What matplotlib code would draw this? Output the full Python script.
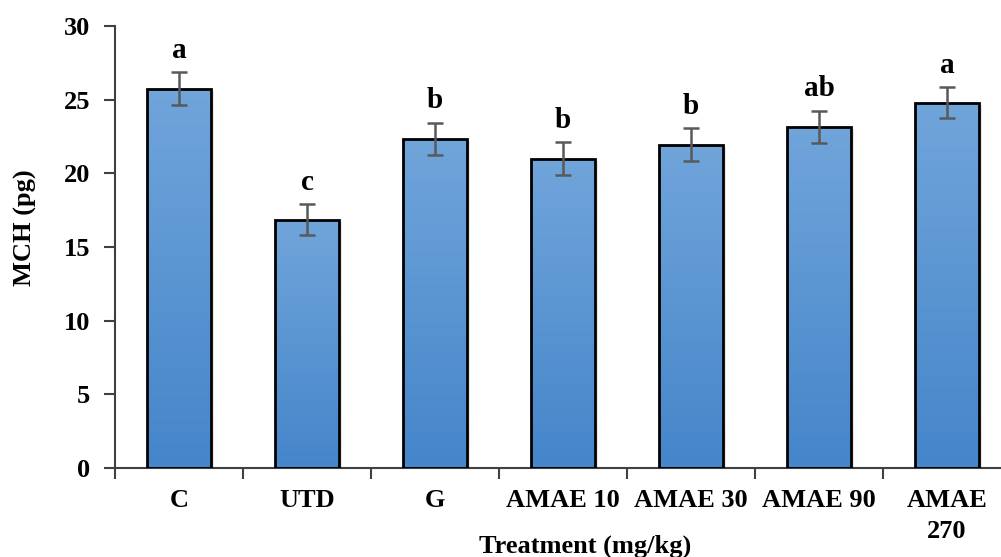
import matplotlib.pyplot as plt
import numpy as np
from matplotlib.colors import LinearSegmentedColormap

plt.rcParams['font.family'] = ['Liberation Serif', 'DejaVu Serif']
plt.rcParams['font.weight'] = 'bold'

# data
treatments = ['C', 'UTD', 'G', 'AMAE 10', 'AMAE 30', 'AMAE 90', 'AMAE\n270']
mch = [25.75, 16.85, 22.35, 21.0, 21.95, 23.15, 24.8]
err = [1.1, 1.05, 1.1, 1.1, 1.1, 1.1, 1.05]
letters = ['a', 'c', 'b', 'b', 'b', 'ab', 'a']

fig = plt.figure(figsize=(10.01, 5.57), dpi=100)
ax = fig.add_axes([115/1001, 89/557, 896/1001, 442/557])

x = np.arange(len(treatments))
bars = ax.bar(x, mch, width=0.5, color='none', edgecolor='black', linewidth=2, zorder=3)

# gradient fill inside each bar
cmap = LinearSegmentedColormap.from_list('grad', ['#4585ca', '#70a5da'])
grad = np.linspace(0, 1, 256).reshape(-1, 1)
for b in bars:
    bx, bw, bh = b.get_x(), b.get_width(), b.get_height()
    # soft shadow on the right
    ax.add_patch(plt.Rectangle((bx + 0.02, 0), bw, bh - 0.15, color='#bbbbbb', alpha=0.35,
                               lw=0, zorder=1))
    im = ax.imshow(grad, extent=[bx, bx + bw, 0, bh], origin='lower', cmap=cmap,
                   aspect='auto', zorder=2)
    im.set_clip_path(b)

ax.errorbar(x, mch, yerr=err, fmt='none', ecolor='#595959', elinewidth=1.8,
            capsize=6, capthick=1.8, zorder=4)

for xi, v, e, lab in zip(x, mch, err, letters):
    ax.annotate(lab, (xi, v + e), xytext=(0, 6), textcoords='offset points',
                ha='center', va='bottom', fontsize=21, fontweight='bold')

ax.set_xlim(-0.5, 6.5)
ax.set_ylim(0, 30)
ax.set_yticks(range(0, 31, 5))
ax.set_xticks(x)
ax.set_xticklabels(treatments, fontsize=19, fontweight='bold', linespacing=1.45)
ax.set_xticks(np.arange(-0.5, 7, 1), minor=True)
ax.tick_params(axis='x', which='major', length=0, pad=15)
ax.tick_params(axis='x', which='minor', length=8, width=1.5, direction='out', color='#404040')
ax.tick_params(axis='y', length=8, width=1.5, direction='out', color='#404040',
               labelsize=19, pad=10)
for t in ax.get_yticklabels():
    t.set_fontweight('bold')

for s in ['top', 'right']:
    ax.spines[s].set_visible(False)
for s in ['left', 'bottom']:
    ax.spines[s].set_linewidth(1.5)
    ax.spines[s].set_color('#404040')

ax.set_ylabel('MCH (pg)', fontsize=19, fontweight='bold', va='center')
ax.yaxis.set_label_coords(-0.1, 0.543)
ax.set_xlabel('Treatment (mg/kg)', fontsize=19, fontweight='bold', va='center')
ax.xaxis.set_label_coords(0.5246, -0.176)

fig.savefig('out.png', dpi=100)
